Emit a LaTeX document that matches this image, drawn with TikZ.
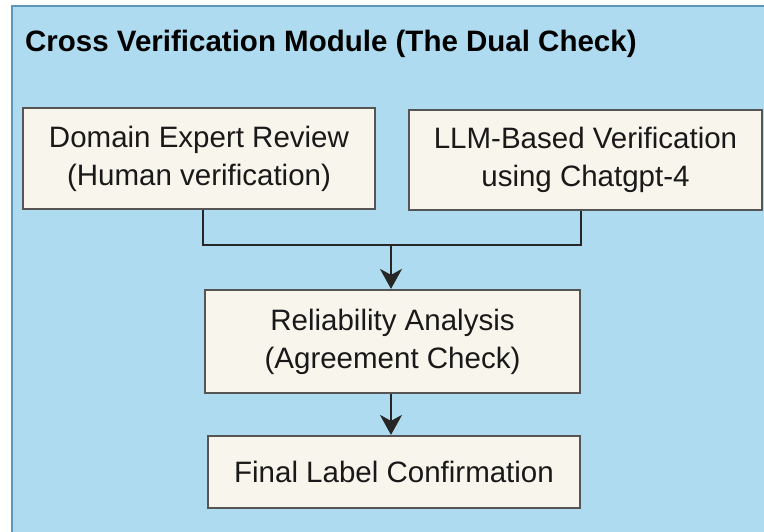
\documentclass[tikz,border=0pt]{standalone}
\usepackage{fontspec}
\setmainfont{Liberation Sans}
\usetikzlibrary{arrows.meta,calc}
\definecolor{panelblue}{RGB}{174,219,239}
\definecolor{panelborder}{RGB}{92,150,185}
\definecolor{boxfill}{RGB}{248,245,236}
\definecolor{boxborder}{RGB}{85,85,85}
\tikzset{
  stagebox/.style={draw=boxborder, fill=boxfill, line width=2.2pt, align=center,
    inner sep=0pt, font=\fontsize{29.5}{38}\selectfont, text=black!90},
  conn/.style={draw=black!85, line width=2pt},
  arr/.style={conn, -{Stealth[length=20pt,width=22pt,inset=6pt]}}
}
\begin{document}
\begin{tikzpicture}[x=1pt,y=-1pt]
\useasboundingbox (0,0) rectangle (764,531);
\fill[white] (0,0) rectangle (764,531);
\draw[fill=panelblue, draw=panelborder, line width=2pt] (12,6) rectangle (780,545);
\node[anchor=base west, inner sep=0pt, font=\bfseries\fontsize{29.5}{36}\selectfont] (title) at (25,51) {Cross Verification Module (The Dual Check)};
\node[stagebox, minimum width=352pt, minimum height=101pt] (b1) at (199,158.5) {\raisebox{-3pt}{\parbox{340pt}{\centering Domain Expert Review\\(Human verification)}}};
\node[stagebox, minimum width=353pt, minimum height=100pt] (b2) at (585.5,160) {\raisebox{-3pt}{\parbox{340pt}{\centering LLM-Based Verification\\using Chatgpt-4}}};
\node[stagebox, minimum width=375pt, minimum height=103pt] (b3) at (392.5,341.5) {\raisebox{-3pt}{\parbox{360pt}{\centering Reliability Analysis\\(Agreement Check)}}};
\node[stagebox, minimum width=372pt, minimum height=72pt] (b4) at (394,472) {\raisebox{-2pt}{Final Label Confirmation}};
\coordinate (j) at (391,245);
\draw[conn] ($(b1.south)+(4,0)$) |- (j) -| ($(b2.south)+(-4.5,0)$);
\draw[arr] (j) -- (j |- b3.north);
\draw[arr] (b3.south -| j) -- (j |- b4.north);
\end{tikzpicture}
\end{document}
